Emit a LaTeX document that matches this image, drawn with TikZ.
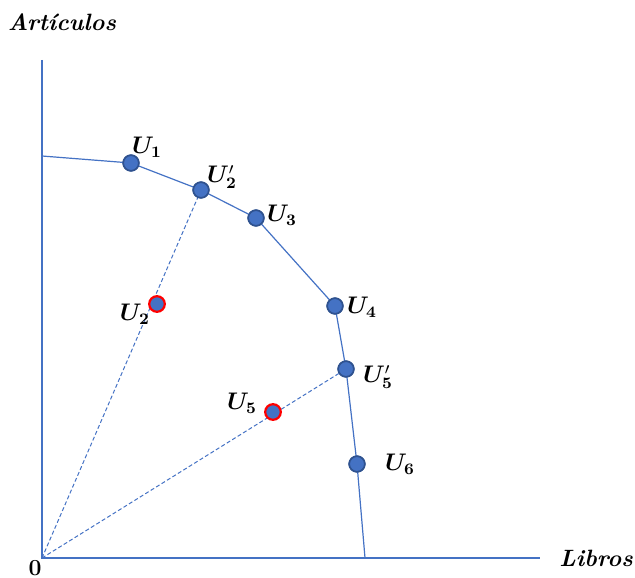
\documentclass[tikz,border=0pt]{standalone}
\usepackage{amsmath}
\usepackage{bm}
\usepackage{tikz}
\usetikzlibrary{positioning, calc}
\definecolor{linea}{RGB}{68,114,196}
\definecolor{borde}{RGB}{47,82,143}

\begin{document}
\begin{tikzpicture}[
			x=0.5pt, y=-0.5pt,
			eje/.style={linea, line width=0.6pt},
			frontera/.style={linea, line width=0.6pt},
			rayo/.style={linea, line width=0.5pt, dashed, dash pattern=on 2pt off 1.2pt},
			punto/.style={circle, fill=linea, draw=borde, line width=0.8pt, minimum size=7.8pt, inner sep=0pt},
			interior/.style={circle, fill=linea, draw=red, line width=1.1pt, minimum size=7.8pt, inner sep=0pt},
			etiq/.style={font=\fontsize{11.5}{13}\selectfont, inner sep=0pt},
			ejetxt/.style={font=\fontsize{11.8}{13}\selectfont\bfseries\itshape, inner sep=0pt}
			]
			\useasboundingbox (0,0) rectangle (635,577);
			% ejes
			\coordinate (o) at (42,558);
			\coordinate (ytop) at (42,60);
			\coordinate (xend) at (540,558);
			\draw[eje] (ytop) -- (o) -- (xend);
			\node[ejetxt] (art) at (62,22) {Artículos};
			\node[ejetxt, anchor=west] (lib) at (559,558) {Libros};
			\node[etiq, font=\fontsize{11.5}{13}\selectfont\bfseries] (cero) at (35,568) {0};
			
			% frontera de posibilidades
			\coordinate (f0) at (42,156);
			\coordinate (f7) at (365,558);
			\node[punto] (u1) at (131,163) {};
			\node[punto] (u2p) at (201,190) {};
			\node[punto] (u3) at (256,218) {};
			\node[punto] (u4) at (335,306) {};
			\node[punto] (u5p) at (346,369) {};
			\node[punto] (u6) at (357,464) {};
			\draw[frontera] (f0) -- (u1.center) -- (u2p.center) -- (u3.center) -- (u4.center) -- (u5p.center) -- (u6.center) -- (f7);
			
			% rayos desde el origen
			\draw[rayo] (o) -- (u2p);
			\draw[rayo] (o) -- (u5p);
			\node[interior] (u2) at (157,304) {};
			\node[interior] (u5) at (273,412) {};
			% redibujar puntos encima
			\foreach \p in {u1,u2p,u3,u4,u5p,u6}
				\node[punto] at (\p) {};
			
			% etiquetas
			\node[etiq] at (147,147) {$\bm{U}_{\mathbf{1}}$};
			\node[etiq] at (222,177) {$\bm{U}'_{\mathbf{2}}$};
			\node[etiq] at (282,215) {$\bm{U}_{\mathbf{3}}$};
			\node[etiq] at (362,307) {$\bm{U}_{\mathbf{4}}$};
			\node[etiq] at (378,377) {$\bm{U}'_{\mathbf{5}}$};
			\node[etiq] at (400,464) {$\bm{U}_{\mathbf{6}}$};
			\node[etiq] at (135,314) {$\bm{U}_{\mathbf{2}}$};
			\node[etiq] at (242,403) {$\bm{U}_{\mathbf{5}}$};
		\end{tikzpicture}
\end{document}
